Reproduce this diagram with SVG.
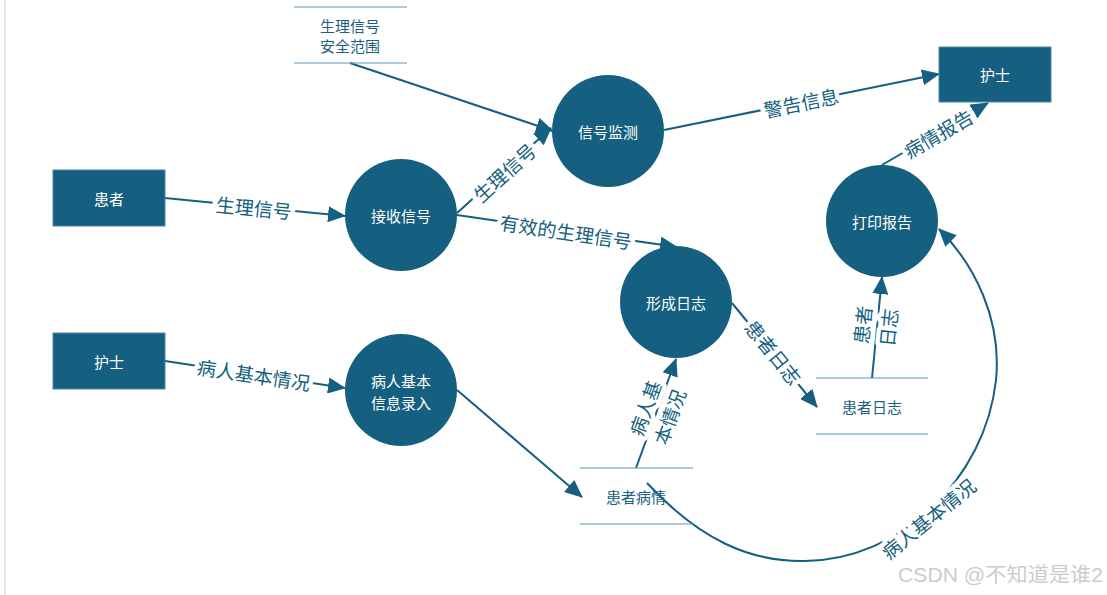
<svg xmlns="http://www.w3.org/2000/svg" width="1107" height="595" viewBox="0 0 1107 595">
<style>
.ent{fill:#155f80;stroke:#4d88a6;stroke-width:1}
.proc{fill:#155f80}
.nt{fill:#ffffff;font-family:"Noto Sans CJK SC","Noto Sans",sans-serif;font-size:15px;text-anchor:middle;dominant-baseline:central}
.st{stroke:#5f98b8;stroke-width:1.2}
.stt{fill:#1c5f80;font-family:"Noto Sans CJK SC","Noto Sans",sans-serif;font-size:15px;text-anchor:middle;dominant-baseline:central}
.ln{fill:none;stroke:#155f80;stroke-width:2}
.lb{fill:#155f80;font-family:"Noto Sans CJK SC","Noto Sans",sans-serif;font-size:19px;text-anchor:middle;dominant-baseline:central;stroke:#ffffff;stroke-width:9;stroke-linejoin:round;paint-order:stroke}
</style>
<defs>
<marker id="ar" markerUnits="userSpaceOnUse" markerWidth="18" markerHeight="16" viewBox="0 0 18 16" refX="17" refY="8" orient="auto">
<path d="M0,0 L18,8 L0,16 z" fill="#155f80"/>
</marker>
</defs>
<rect width="1107" height="595" fill="#ffffff"/>
<line x1="5" y1="0" x2="5" y2="595" stroke="#e2e2e2" stroke-width="2"/>

<g id="connectors">
<line class="ln" x1="165" y1="198" x2="345" y2="216" marker-end="url(#ar)"/>
<line class="ln" x1="165" y1="361" x2="345" y2="388" marker-end="url(#ar)"/>
<line class="ln" x1="457" y1="213" x2="551" y2="128" marker-end="url(#ar)"/>
<line class="ln" x1="350" y1="63" x2="553" y2="131" marker-end="url(#ar)"/>
<line class="ln" x1="457" y1="215" x2="677" y2="247" marker-end="url(#ar)"/>
<line class="ln" x1="664" y1="130" x2="939" y2="74" marker-end="url(#ar)"/>
<line class="ln" x1="882" y1="165" x2="988" y2="103" marker-end="url(#ar)"/>
<line class="ln" x1="732" y1="303" x2="817" y2="407" marker-end="url(#ar)"/>
<line class="ln" x1="872" y1="378" x2="882" y2="277" marker-end="url(#ar)"/>
<line class="ln" x1="636" y1="468" x2="676" y2="359" marker-end="url(#ar)"/>
<line class="ln" x1="457" y1="390" x2="582" y2="497" marker-end="url(#ar)"/>
<path class="ln" d="M647,483 C700,540 750,562 805,561 C900,560 985,480 996,380 C1002,320 975,265 939,229" marker-end="url(#ar)"/>

<text class="lb" transform="translate(254,207) rotate(5.7)">生理信号</text>
<text class="lb" transform="translate(254,374) rotate(8.5)">病人基本情况</text>
<text class="lb" transform="translate(504,172) rotate(-42)">生理信号</text>
<text class="lb" transform="translate(566,231) rotate(8.5)">有效的生理信号</text>
<text class="lb" transform="translate(801,102) rotate(-11.5)">警告信息</text>
<text class="lb" transform="translate(938,133) rotate(-30)">病情报告</text>
<text class="lb" transform="translate(774,352) rotate(51)">患者日志</text>
<text class="lb" transform="translate(874,326) rotate(-84)"><tspan x="0" y="-13">患者</tspan><tspan x="0" y="13">日志</tspan></text>
<text class="lb" transform="translate(656,412) rotate(-70)"><tspan x="0" y="-13">病人基</tspan><tspan x="0" y="13">本情况</tspan></text>
<text class="lb" transform="translate(928,518) rotate(-39)">病人基本情况</text>
</g>

<g id="patient">
<rect class="ent" x="53" y="170" width="112" height="56"/>
<text class="nt" x="109" y="198">患者</text>
</g>
<g id="nurse-left">
<rect class="ent" x="53" y="333" width="112" height="56"/>
<text class="nt" x="109" y="361">护士</text>
</g>
<g id="nurse-right">
<rect class="ent" x="939" y="47" width="112" height="55"/>
<text class="nt" x="995" y="74">护士</text>
</g>
<g id="receive">
<circle class="proc" cx="401" cy="215" r="56"/>
<text class="nt" x="401" y="215">接收信号</text>
</g>
<g id="entry">
<circle class="proc" cx="401" cy="390" r="56"/>
<text class="nt"><tspan x="401" y="380">病人基本</tspan><tspan x="401" y="402">信息录入</tspan></text>
</g>
<g id="monitor">
<circle class="proc" cx="608" cy="131" r="56"/>
<text class="nt" x="608" y="131">信号监测</text>
</g>
<g id="log">
<circle class="proc" cx="676" cy="302" r="56"/>
<text class="nt" x="676" y="302">形成日志</text>
</g>
<g id="print">
<circle class="proc" cx="882" cy="221" r="56"/>
<text class="nt" x="882" y="221">打印报告</text>
</g>
<g id="store-range">
<line class="st" x1="294" y1="7" x2="407" y2="7"/>
<line class="st" x1="294" y1="63" x2="407" y2="63"/>
<text class="stt"><tspan x="350" y="25">生理信号</tspan><tspan x="350" y="45">安全范围</tspan></text>
</g>
<g id="store-log">
<line class="st" x1="816" y1="378" x2="928" y2="378"/>
<line class="st" x1="816" y1="434" x2="928" y2="434"/>
<text class="stt" x="872" y="406">患者日志</text>
</g>
<g id="store-cond">
<line class="st" x1="580" y1="468" x2="693" y2="468"/>
<line class="st" x1="580" y1="524" x2="693" y2="524"/>
<text class="stt" x="636" y="496">患者病情</text>
</g>
<text x="898" y="582" font-family="Liberation Sans,'Noto Sans CJK SC',sans-serif" font-size="20" fill="#cccccc" textLength="205" lengthAdjust="spacingAndGlyphs">CSDN @不知道是谁2</text>
</svg>
